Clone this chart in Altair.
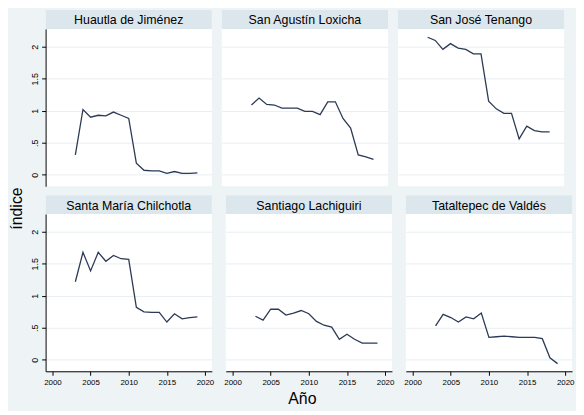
import altair as alt
import pandas as pd

# values
years = list(range(2003, 2020))
municipios = ["Huautla de Jiménez", "San Agustín Loxicha", "San José Tenango",
              "Santa María Chilchotla", "Santiago Lachiguiri", "Tataltepec de Valdés"]
huautla = [0.31, 1.02, 0.90, 0.93, 0.92, 0.98, 0.93, 0.88, 0.18, 0.07,
           0.06, 0.06, 0.02, 0.05, 0.02, 0.02, 0.03]
loxicha = [1.09, 1.20, 1.10, 1.09, 1.04, 1.04, 1.04, 0.99, 0.99, 0.94,
           1.14, 1.14, 0.88, 0.73, 0.31, 0.28, 0.24]
tenango = [2.15, 2.10, 1.96, 2.05, 1.98, 1.96, 1.89, 1.89, 1.15, 1.03,
           0.96, 0.96, 0.56, 0.76, 0.69, 0.67, 0.67]
chilchotla = [1.22, 1.68, 1.39, 1.68, 1.54, 1.63, 1.58, 1.57, 0.82, 0.75,
              0.74, 0.74, 0.59, 0.72, 0.64, 0.66, 0.67]
lachiguiri = [0.68, 0.62, 0.79, 0.79, 0.70, 0.73, 0.77, 0.72, 0.60, 0.54,
              0.51, 0.32, 0.40, 0.32, 0.26, 0.26, 0.26]
tataltepec = [0.53, 0.71, 0.66, 0.59, 0.67, 0.64, 0.73, 0.35, 0.36, 0.37,
              0.36, 0.35, 0.35, 0.35, 0.33, 0.03, -0.06]
series = dict(zip(municipios, [huautla, loxicha, tenango, chilchotla, lachiguiri, tataltepec]))

x_ticks = [2000, 2005, 2010, 2015, 2020]
y_ticks = [0, 0.5, 1, 1.5, 2]

FONT = "Liberation Sans"
BG = "#eef3f6"
STRIP = "#dce6ed"
GRID = "#e8eef2"
LINE = "#2c3a55"
W, H, SH = 168, 159, 19


def panel(name, row, col):
    data = pd.DataFrame({"year": years, "indice": series[name]})

    if row == 1:
        x_axis = alt.Axis(values=x_ticks, format="d", title=None, grid=False,
                          labelFontSize=8, labelFont=FONT, labelColor="black",
                          tickSize=4, tickColor="black", domainColor="black", labelPadding=3)
    else:
        x_axis = None

    if col == 0:
        y_axis = alt.Axis(values=y_ticks, title=None, grid=True, gridColor=GRID,
                          labelAngle=270, labelFontSize=9, labelFont=FONT, labelColor="black",
                          labelExpr="replace(format(datum.value, '~g'), '0.', '.')",
                          tickSize=4, tickColor="black", domainColor="black", labelPadding=2)
    else:
        y_axis = alt.Axis(values=y_ticks, title=None, grid=True, gridColor=GRID,
                          labels=False, ticks=False, domain=False)

    plot = (
        alt.Chart(data)
        .mark_line(color=LINE, strokeWidth=1.3)
        .encode(
            x=alt.X("year:Q", scale=alt.Scale(domain=[1999.1, 2020.9], nice=False), axis=x_axis),
            y=alt.Y("indice:Q", scale=alt.Scale(domain=[-0.18, 2.28], nice=False, zero=False),
                    axis=y_axis),
        )
        .properties(width=W, height=H)
    )

    # grey-blue title strip above each panel
    base = alt.Chart(pd.DataFrame({"name": [name]})).properties(width=W, height=SH)
    band = base.mark_rect(color=STRIP).encode(
        x=alt.value(0), x2=alt.value("width"), y=alt.value(0), y2=alt.value("height"))
    label = base.mark_text(font=FONT, fontSize=12.5, color="black", baseline="middle").encode(
        text="name:N", x=alt.value(W / 2), y=alt.value(SH / 2 + 1))

    return alt.vconcat(band + label, plot, spacing=0)


rows = []
for r in range(2):
    rows.append(alt.hconcat(*[panel(municipios[r * 3 + c], r, c) for c in range(3)], spacing=10))

grid = alt.vconcat(*rows, spacing=9).properties(
    title=alt.Title("Año", orient="bottom", anchor="middle", fontSize=16, offset=5))

chart = (
    alt.hconcat(grid)
    .properties(title=alt.Title("índice", orient="left", anchor="middle", fontSize=16, offset=6))
    .configure(background=BG, padding={"left": 1, "top": 0, "right": 2, "bottom": 2})
    .configure_view(stroke=None, fill="white")
    .configure_title(font=FONT, fontWeight="normal", color="black")
)

chart.save("out.html", embed_options={"renderer": "svg", "actions": False})
